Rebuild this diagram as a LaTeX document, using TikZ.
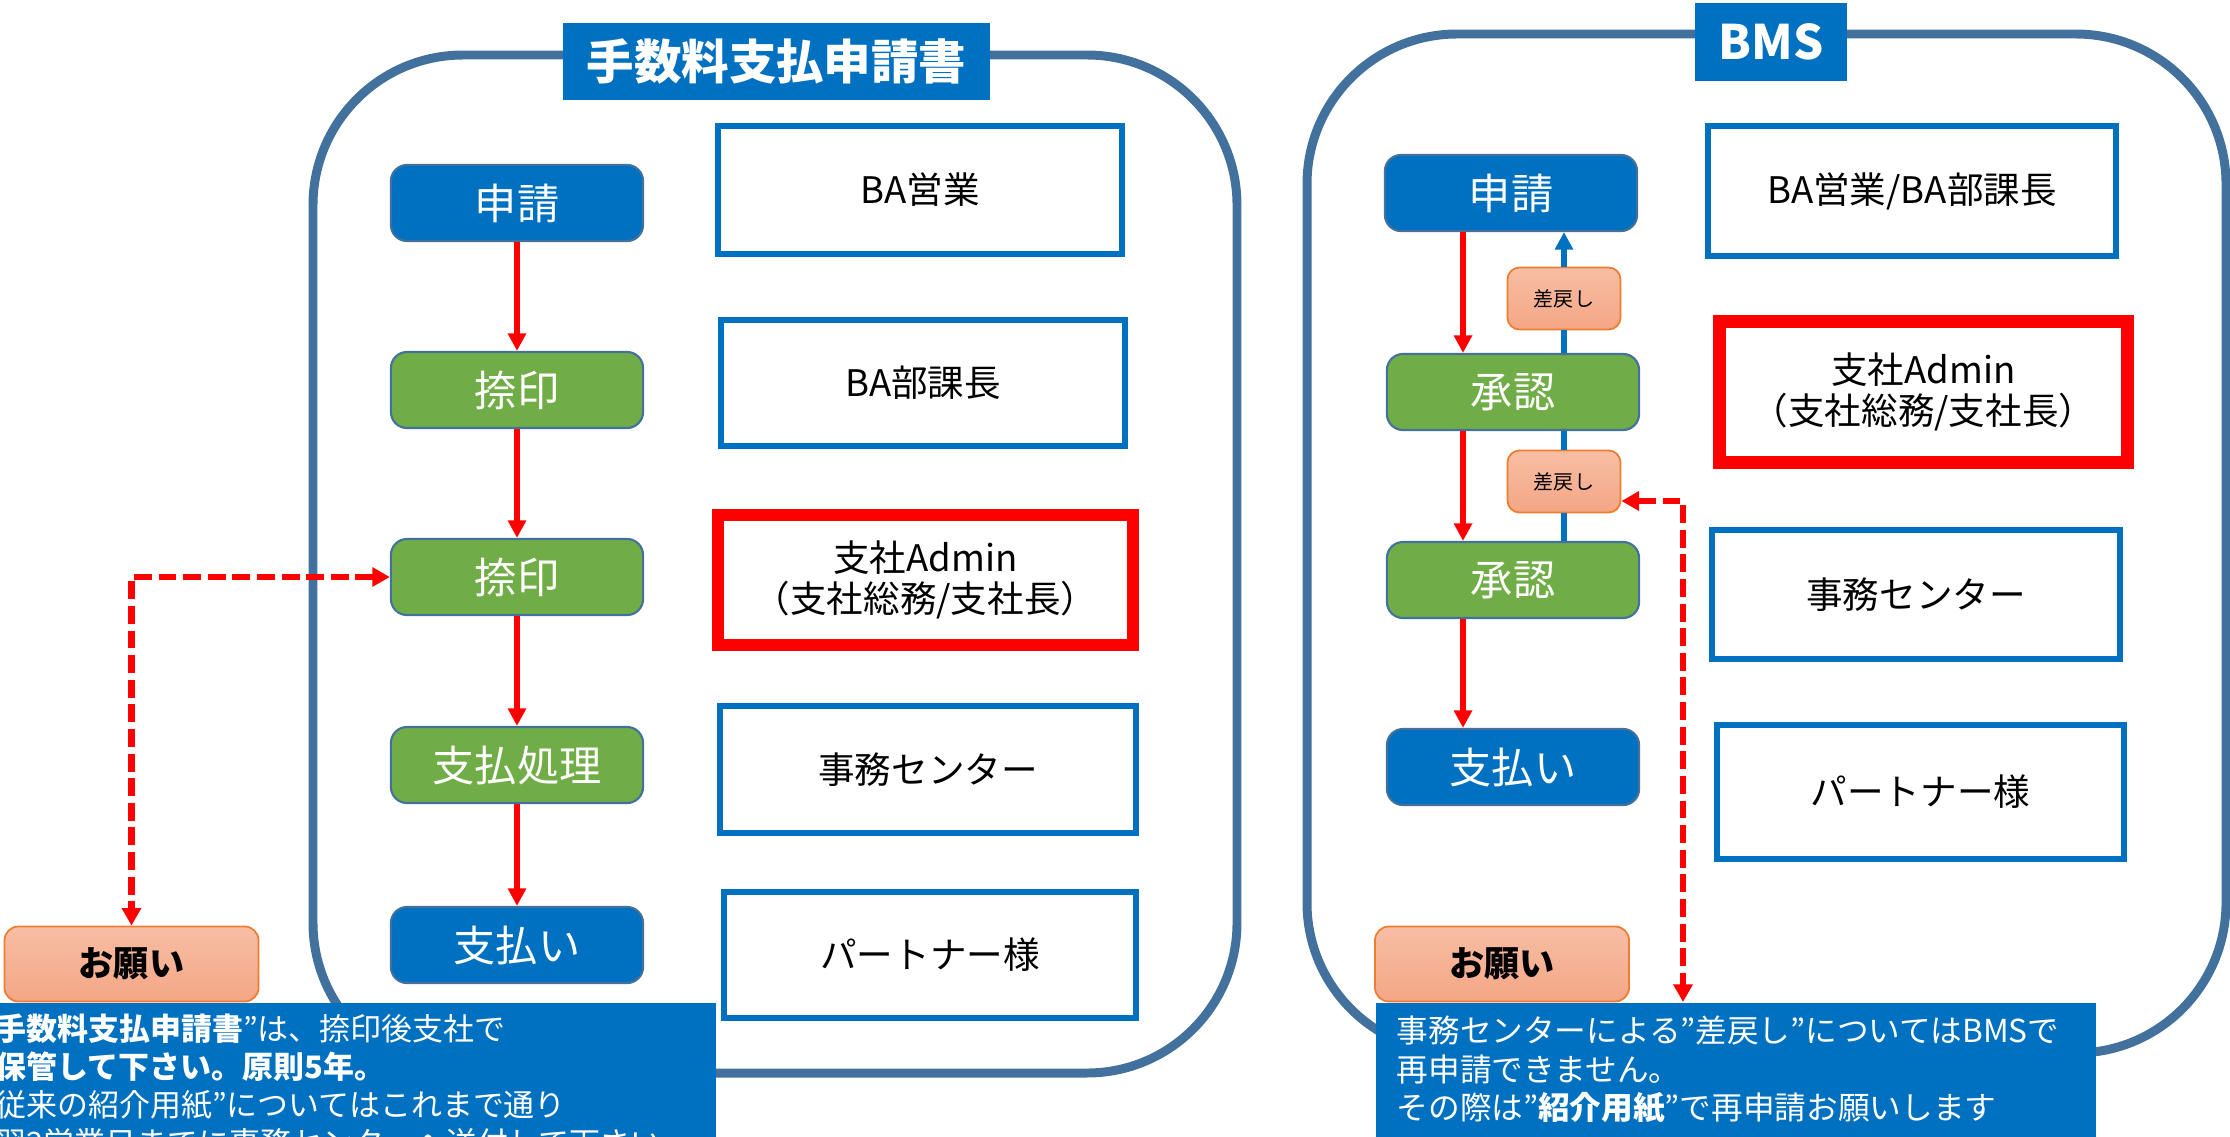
\documentclass[tikz,border=0pt]{standalone}
\usepackage{fontspec}
\setmainfont{Noto Sans CJK JP}
\usetikzlibrary{arrows.meta}
\definecolor{bmsblue}{HTML}{0070C0}
\definecolor{steel}{HTML}{41719C}
\definecolor{grn}{HTML}{70AD47}
\definecolor{org}{HTML}{ED7D31}
\definecolor{pk1}{HTML}{F7BEA5}
\definecolor{pk2}{HTML}{F4A684}
\definecolor{rd}{HTML}{FF0000}
\begin{document}
\begin{tikzpicture}[x=0.01cm,y=-0.01cm,
  flowb/.style={draw=steel, line width=0.6pt, fill=bmsblue, rounded corners=0.16cm, minimum width=2.52cm, minimum height=0.76cm, text=white, font=\fontsize{12}{14}\selectfont, inner sep=0pt},
  flowg/.style={flowb, fill=grn},
  rolebox/.style={draw=bmsblue, line width=1.7pt, fill=white, align=center, inner sep=0pt, font=\fontsize{10.4}{11.7}\selectfont},
  roleredbox/.style={rolebox, draw=rd, line width=3.6pt},
  sashi/.style={draw=org, line width=0.5pt, top color=pk1, bottom color=pk2, rounded corners=0.12cm, minimum width=1.13cm, minimum height=0.62cm, font=\fontsize{5.7}{7}\selectfont, inner sep=0pt},
  onegai/.style={sashi, minimum width=2.54cm, minimum height=0.75cm, rounded corners=0.14cm, font=\bfseries\fontsize{10}{12}\selectfont},
  container/.style={draw=steel, line width=2.55pt, rounded corners=1.5cm},
  titlebox/.style={fill=bmsblue, text=white, inner sep=0pt, font=\bfseries\fontsize{13.5}{16}\selectfont},
  notebox/.style={fill=bmsblue, inner sep=0pt, anchor=north west},
  notetext/.style={text=white, inner sep=0pt, anchor=north west, align=left, font=\fontsize{8.8}{10.8}\selectfont},
  redarrow/.style={draw=rd, line width=1.65pt, -{Triangle[length=5pt,width=5pt]}},
  blueline/.style={draw=bmsblue, line width=1.65pt},
  reddash/.style={draw=rd, line width=1.95pt, dash pattern=on 5.1pt off 1.9pt, {Triangle[length=5pt,width=5.3pt]}-{Triangle[length=5pt,width=5.3pt]}}
]
\useasboundingbox (0,0) rectangle (2230,1136);
\clip (0,0) rectangle (2230,1136);

% containers
\draw[container] (313,55) rectangle (1237,1073);
\draw[container] (1307,34) rectangle (2226,1053);

% titles
\node[titlebox, minimum width=4.27cm, minimum height=0.77cm] (t1) at (776.5,61.5) {手数料支払申請書};
\node[titlebox, minimum width=1.52cm, minimum height=0.78cm] (t2) at (1771,42) {BMS};

% left role boxes
\node[rolebox, minimum width=4.04cm, minimum height=1.27cm] (r1) at (920,190) {BA営業};
\node[rolebox, minimum width=4.04cm, minimum height=1.26cm] (r2) at (923,383) {BA部課長};
\node[roleredbox, minimum width=4.15cm, minimum height=1.30cm] (r3) at (925.5,580) {支社Admin\\（支社総務/支社長）};
\node[rolebox, minimum width=4.16cm, minimum height=1.27cm] (r4) at (928,769.5) {事務センター};
\node[rolebox, minimum width=4.12cm, minimum height=1.26cm] (r5) at (930,955) {パートナー様};

% right role boxes
\node[rolebox, minimum width=4.08cm, minimum height=1.30cm] (s1) at (1912,191) {BA営業/BA部課長};
\node[roleredbox, minimum width=4.08cm, minimum height=1.41cm] (s2) at (1923.5,392) {支社Admin\\（支社総務/支社長）};
\node[rolebox, minimum width=4.08cm, minimum height=1.29cm] (s3) at (1916,594.5) {事務センター};
\node[rolebox, minimum width=4.07cm, minimum height=1.34cm] (s4) at (1920.5,792) {パートナー様};

% left flow
\node[flowb] (a1) at (517,203) {申請};
\node[flowg] (a2) at (517,390) {捺印};
\node[flowg] (a3) at (517,577) {捺印};
\node[flowg] (a4) at (517,765) {支払処理};
\node[flowb] (a5) at (517,945) {支払い};
\draw[redarrow] (a1) -- (a2);
\draw[redarrow] (a2) -- (a3);
\draw[redarrow] (a3) -- (a4);
\draw[redarrow] (a4) -- (a5);

% right flow
\node[flowb] (b1) at (1511,193) {申請};
\node[flowg] (b2) at (1513,392) {承認};
\node[flowg] (b3) at (1513,580) {承認};
\node[flowb] (b4) at (1513,767) {支払い};
\node[sashi] (d1) at (1564,298.5) {差戻し};
\node[sashi] (d2) at (1564,481.5) {差戻し};
\coordinate (xr) at (1463,0);
\draw[redarrow] (b1.south -| xr) -- (b2.north -| xr);
\draw[redarrow] (b2.south -| xr) -- (b3.north -| xr);
\draw[redarrow] (b3.south -| xr) -- (b4.north -| xr);
\draw[blueline] (b3.north -| d2) -- (d2.south);
\draw[blueline] (d2.north) -- (b2.south -| d2);
\draw[blueline] (b2.north -| d1) -- (d1.south);
\draw[blueline, -{Triangle[length=5pt,width=5pt]}] (d1.north) -- (b1.south -| d1);

% notes
\node[onegai] (o1) at (131.5,964) {お願い};
\node[onegai] (o2) at (1502,964) {お願い};
\node[notebox, minimum width=7.75cm, minimum height=1.5cm] (lbox) at (-60,1002) {};
\node[notetext] (ltext) at (-5,1013) {\llap{“}\textbf{手数料支払申請書}”は、捺印後支社で\\\textbf{保管して下さい。原則5年。}\\\llap{“}従来の紹介用紙”についてはこれまで通り\\翌2営業日までに事務センターへ送付して下さい};
\node[notebox, minimum width=7.2cm, minimum height=1.5cm] (rbox) at (1375,1002) {};
\node[notetext, font=\fontsize{9}{11}\selectfont] (rtext) at (1396,1015) {事務センターによる”差戻し”についてはBMSで\\再申請できません。\\その際は”\textbf{紹介用紙}”で再申請お願いします};

% dashed connectors
\draw[reddash] (a3.west) -| (o1.north);
\coordinate (c2) at (1683,501);
\draw[reddash] (d2.east |- c2) -- (c2) -- (c2 |- rbox.north);
\end{tikzpicture}
\end{document}
